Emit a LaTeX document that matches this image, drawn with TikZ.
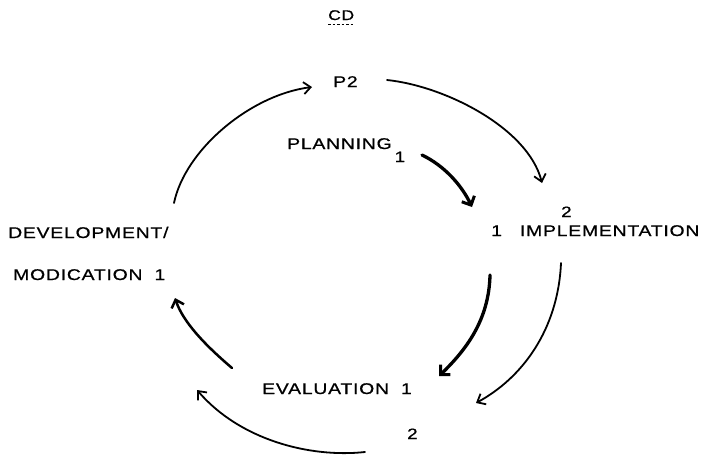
\documentclass[tikz,border=0pt]{standalone}
\usepackage{fontspec}
\setmainfont[FakeStretch=1.25,LetterSpace=5,FakeBold=0.8]{Liberation Sans}
\usetikzlibrary{arrows.meta}
\begin{document}
\begin{tikzpicture}[x=1pt,y=-1pt,
  lbl/.style={inner sep=0pt,anchor=base west,font=\fontsize{15.5}{18}\selectfont},
  small/.style={inner sep=0pt,anchor=base west,font=\fontsize{15}{17}\selectfont},
  flow/.style={line width=1.8pt,line cap=round,-{Straight Barb[length=7pt,width=12pt,line width=1.8pt]}},
  medium/.style={line width=2.5pt,line cap=round,-{Straight Barb[length=7pt,width=13pt,line width=2.5pt]}},
  heavy/.style={line width=3.3pt,line cap=round,-{Straight Barb[length=7pt,width=14pt,line width=3pt]}}]
\useasboundingbox (0,0) rectangle (704,459);

% labels
\node[small,font=\fontsize{14}{16}\selectfont] (cd) at (328,20) {CD};
\draw[line width=0.7pt,dash pattern=on 2.5pt off 2pt] ([yshift=-4.5pt]cd.base west) -- ([yshift=-4.5pt]cd.base east);
\node[lbl] (p2) at (333,87) {P2};
\node[lbl] (plan) at (287,149) {PLANNING\hspace{3pt}\raisebox{-13pt}{\fontsize{15}{15}\selectfont 1}};
\node[small] (impltwo) at (561,217) {2};
\node[lbl] (impl) at (491,236) {1\hspace{18pt}IMPLEMENTATION};
\node[lbl] (dev) at (8,238) {DEVELOPMENT/};
\node[lbl] (mod) at (13,280) {MODICATION\hspace{12pt}1};
\node[lbl] (eval) at (262,394) {EVALUATION\hspace{12pt}1};
\node[small] (evaltwo) at (407,439) {2};

% arrow end points
\coordinate (a1s) at (174,203);  \coordinate (a1e) at (312,87);
\coordinate (a2s) at (387,80);   \coordinate (a2e) at (542,183);
\coordinate (a3s) at (422,155);  \coordinate (a3e) at (472,207);
\coordinate (a4s) at (490,275);  \coordinate (a4e) at (439,376);
\coordinate (a5s) at (561,263);  \coordinate (a5e) at (476,403);
\coordinate (a6s) at (365,452);  \coordinate (a6e) at (197,390);
\coordinate (a7s) at (232,368);  \coordinate (a7e) at (175,298);

% connectors of the cycle
\draw[flow]   (a1s) .. controls (185,150) and (250,95) .. (a1e);
\draw[flow]   (a2s) .. controls (445,86) and (528,128) .. (a2e);
\draw[heavy]  (a3s) .. controls (445,166) and (462,186) .. (a3e);
\draw[heavy]  (a4s) .. controls (489,320) and (466,350) .. (a4e);
\draw[flow]   (a5s) .. controls (558,330) and (522,378) .. (a5e);
\draw[flow]   (a6s) .. controls (310,458) and (240,440) .. (a6e);
\draw[medium] (a7s) .. controls (205,345) and (183,322) .. (a7e);
\end{tikzpicture}
\end{document}
